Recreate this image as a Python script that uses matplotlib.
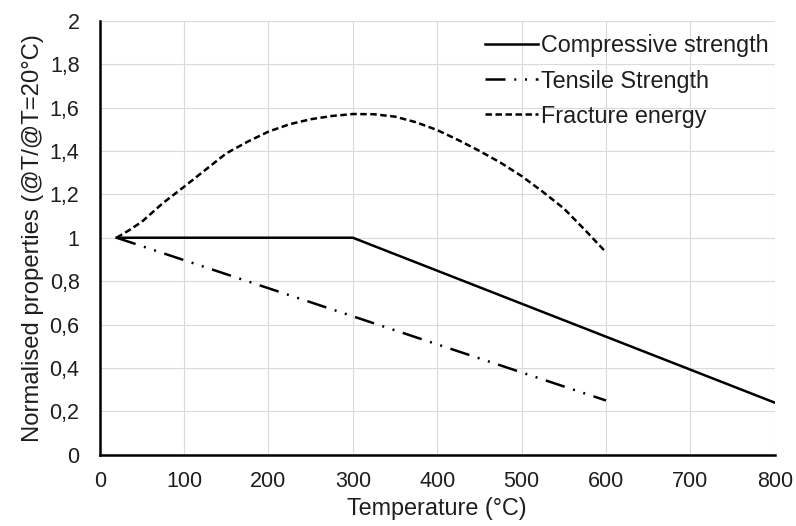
import numpy as np
import matplotlib.pyplot as plt
from matplotlib.ticker import FuncFormatter

plt.rcParams['font.family'] = ['Liberation Sans', 'DejaVu Sans']

# normalised properties vs temperature
comp_T = [20, 300, 800]
comp_val = [1.0, 1.0, 0.24]

tens_T = [20, 600]
tens_val = [1.0, 0.25]

frac_T = [20, 35, 50, 75, 100, 125, 150, 175, 200, 225, 250, 275, 300, 325,
          350, 375, 400, 425, 450, 475, 500, 525, 550, 575, 600]
frac_val = [1.0, 1.035, 1.074, 1.16, 1.235, 1.312, 1.389, 1.442, 1.489, 1.523,
            1.546, 1.561, 1.57, 1.569, 1.558, 1.532, 1.496, 1.450, 1.40, 1.346,
            1.284, 1.212, 1.135, 1.036, 0.933]

txt = '#1e1e1e'

fig = plt.figure(figsize=(7.96, 5.26), dpi=100)
ax = fig.add_axes([0.1253, 0.1355, 0.848, 0.8251])

ax.plot(comp_T, comp_val, color='black', lw=1.8, label='Compressive strength')
ax.plot(tens_T, tens_val, color='black', lw=1.8,
        linestyle=(0, (8, 3.5, 0.8, 3.5, 0.8, 3.5)), label='Tensile Strength')
ax.plot(frac_T, frac_val, color='black', lw=1.8,
        linestyle=(0, (2.6, 1.4)), label='Fracture energy')

ax.set_xlim(0, 800)
ax.set_ylim(0, 2)
ax.set_xticks(np.arange(0, 801, 100))
ax.set_yticks(np.arange(0, 2.01, 0.2))
ax.yaxis.set_major_formatter(FuncFormatter(lambda v, p: f'{v:g}'.replace('.', ',')))
ax.tick_params(length=0, labelsize=15.5, labelcolor=txt)
ax.tick_params(axis='x', pad=12)
ax.tick_params(axis='y', pad=14.5)

ax.grid(True, color='#dadada', lw=0.8)
ax.set_axisbelow(True)
for s in ['top', 'right']:
    ax.spines[s].set_visible(False)
for s in ['left', 'bottom']:
    ax.spines[s].set_linewidth(1.8)
    ax.spines[s].set_color('black')

ax.set_xlabel('Temperature (°C)', fontsize=16.8, color=txt, labelpad=3)
ax.set_ylabel('Normalised properties (@T/@T=20°C)', fontsize=17.2, color=txt,
              labelpad=4)

leg = ax.legend(loc='upper right', frameon=False, fontsize=16.8, handlelength=2.3,
                handletextpad=0.12, labelspacing=0.52, borderaxespad=0.0,
                bbox_to_anchor=(1.005, 0.99))
for t in leg.get_texts():
    t.set_color(txt)

fig.savefig('out.png', dpi=100)
